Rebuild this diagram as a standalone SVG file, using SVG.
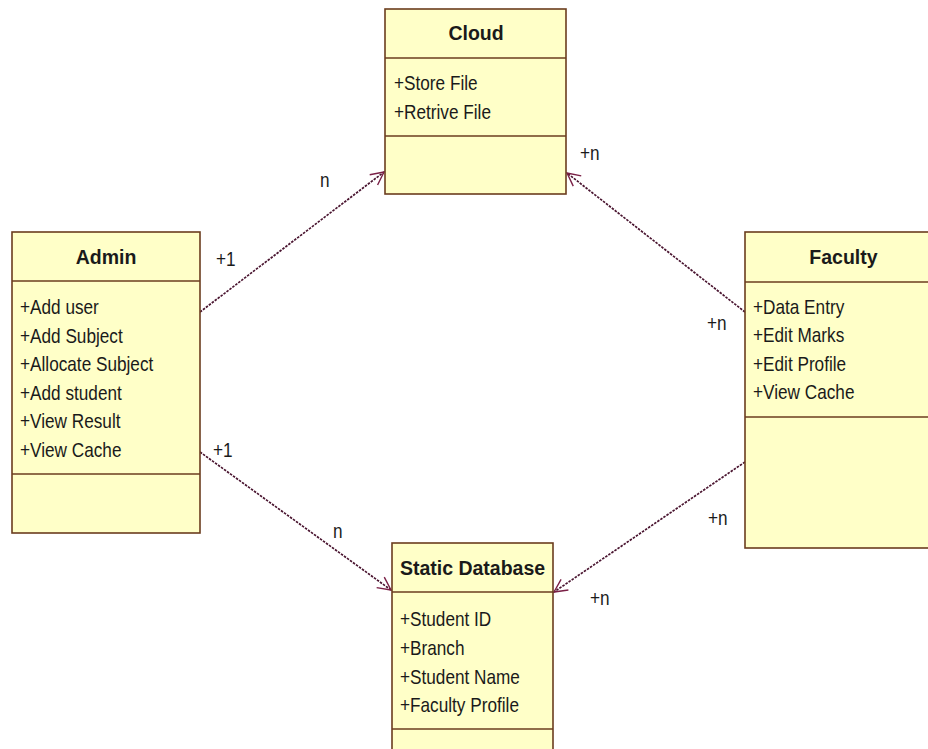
<svg xmlns="http://www.w3.org/2000/svg" width="928" height="749" viewBox="0 0 928 749">
<defs>
<style>
.box{fill:#ffffc8;stroke:#6b3d1f;stroke-width:1.6}
.dv{stroke:#6b3d1f;stroke-width:1.6}
.title{font-family:"Liberation Sans",Arial,sans-serif;font-weight:bold;font-size:19.5px;fill:#1a1a1a;text-anchor:middle}
.item{font-family:"Liberation Sans",Arial,sans-serif;font-size:20px;fill:#1a1a1a}
.conn{stroke:#4a1530;stroke-width:1.7;stroke-dasharray:2.5 1.2;fill:none}
.lbl{font-family:"Liberation Sans",Arial,sans-serif;font-size:20px;fill:#1a1a1a}
</style>
<marker id="arr" viewBox="-15 -9 17 18" refX="0" refY="0" markerWidth="17" markerHeight="18" markerUnits="userSpaceOnUse" orient="auto">
<path d="M -13 -6.5 L 0 0 L -13 6.5" fill="none" stroke="#7a2046" stroke-width="1.4"/>
</marker>
</defs>
<rect x="0" y="0" width="928" height="749" fill="#ffffff"/>

<g id="connectors">
<line class="conn" x1="200" y1="312" x2="384" y2="172" marker-end="url(#arr)"/>
<line class="conn" x1="745" y1="312" x2="567" y2="173" marker-end="url(#arr)"/>
<line class="conn" x1="200" y1="452" x2="391" y2="590" marker-end="url(#arr)"/>
<line class="conn" x1="745" y1="462" x2="554" y2="592" marker-end="url(#arr)"/>
<g transform="scale(0.86 1)">
<text class="lbl" x="372.1" y="187">n</text>
<text class="lbl" x="251.2" y="266">+1</text>
<text class="lbl" x="674.4" y="160">+n</text>
<text class="lbl" x="822.1" y="330">+n</text>
<text class="lbl" x="247.7" y="457">+1</text>
<text class="lbl" x="387.2" y="538">n</text>
<text class="lbl" x="823.3" y="525">+n</text>
<text class="lbl" x="686" y="605">+n</text>
</g>
</g>

<g id="cloud">
<rect class="box" x="385" y="9" width="181" height="185"/>
<line class="dv" x1="385" y1="58" x2="566" y2="58"/>
<line class="dv" x1="385" y1="136" x2="566" y2="136"/>
<text class="title" x="476" y="40">Cloud</text>
<g transform="translate(394 0) scale(0.86 1)">
<text class="item" x="0" y="90">+Store File</text>
<text class="item" x="0" y="119">+Retrive File</text>
</g>
</g>

<g id="admin">
<rect class="box" x="12" y="232" width="188" height="301"/>
<line class="dv" x1="12" y1="281" x2="200" y2="281"/>
<line class="dv" x1="12" y1="474" x2="200" y2="474"/>
<text class="title" x="106" y="264">Admin</text>
<g transform="translate(20 0) scale(0.86 1)">
<text class="item" x="0" y="314">+Add user</text>
<text class="item" x="0" y="342.6">+Add Subject</text>
<text class="item" x="0" y="371.2">+Allocate Subject</text>
<text class="item" x="0" y="399.8">+Add student</text>
<text class="item" x="0" y="428.4">+View Result</text>
<text class="item" x="0" y="457">+View Cache</text>
</g>
</g>

<g id="faculty">
<rect class="box" x="745" y="232" width="200" height="316"/>
<line class="dv" x1="745" y1="282" x2="945" y2="282"/>
<line class="dv" x1="745" y1="417" x2="945" y2="417"/>
<text class="title" x="843.5" y="264">Faculty</text>
<g transform="translate(753 0) scale(0.86 1)">
<text class="item" x="0" y="314">+Data Entry</text>
<text class="item" x="0" y="342.5">+Edit Marks</text>
<text class="item" x="0" y="371">+Edit Profile</text>
<text class="item" x="0" y="399.5">+View Cache</text>
</g>
</g>

<g id="static-database">
<rect class="box" x="392" y="543" width="161" height="220"/>
<line class="dv" x1="392" y1="592" x2="553" y2="592"/>
<line class="dv" x1="392" y1="729" x2="553" y2="729"/>
<text class="title" x="472.5" y="575">Static Database</text>
<g transform="translate(400 0) scale(0.86 1)">
<text class="item" x="0" y="626.5">+Student ID</text>
<text class="item" x="0" y="655">+Branch</text>
<text class="item" x="0" y="683.5">+Student Name</text>
<text class="item" x="0" y="712">+Faculty Profile</text>
</g>
</g>
</svg>
